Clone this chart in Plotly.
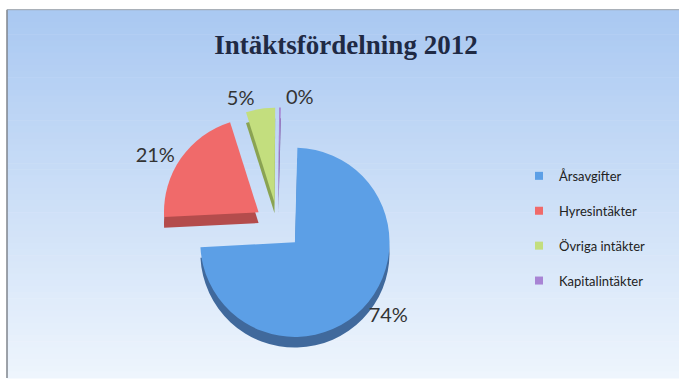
import plotly.graph_objects as go

# ---- data ----
categories = ["Årsavgifter", "Hyresintäkter", "Övriga intäkter", "Kapitalintäkter"]
values = [74, 21, 5, 0.3]
title_text = "Intäktsfördelning 2012"

# ---- styles ----
top_colors = ["#5c9fe6", "#f06a6a", "#c3de7e", "#a884d4"]
side_colors = ["#40699c", "#b44c4c", "#8aa352", "#77589c"]
W, H = 679, 390
pull = [0.25, 0.25, 0.25, 0.25]
rot = 1.5

cx, cy = 278, 233          # pie centre in px
half = 122                 # half of domain size in px
dx0, dx1 = (cx - half) / W, (cx + half) / W
dy0, dy1 = 1 - (cy + half) / H, 1 - (cy - half) / H
depth = 11 / H

fig = go.Figure()

# 3D side (shadow) pie
fig.add_trace(go.Pie(
    labels=categories, values=values, sort=False, direction="clockwise", rotation=rot,
    pull=pull, marker=dict(colors=side_colors, line=dict(width=0)),
    textinfo="none", hoverinfo="skip", showlegend=False,
    domain=dict(x=[dx0, dx1], y=[dy0 - depth, dy1 - depth]),
))
# top face
fig.add_trace(go.Pie(
    labels=categories, values=values, sort=False, direction="clockwise", rotation=rot,
    pull=pull, marker=dict(colors=top_colors, line=dict(width=0)),
    texttemplate="%{percent:.0%}", textposition="outside",
    textfont=dict(family="Lato", size=20, color="#333333"),
    showlegend=False,
    domain=dict(x=[dx0, dx1], y=[dy0, dy1]),
))

# legend entries
for name, col in zip(categories, top_colors):
    fig.add_trace(go.Scatter(
        x=[None], y=[None], mode="markers", name=name, legendgroup=name,
        marker=dict(symbol="square", size=8, color=col),
    ))

# gradient background
shapes = []
n = 60
top_rgb = (170, 201, 242)
bot_rgb = (238, 245, 253)
y_start = 10
for i in range(n):
    t = i / (n - 1)
    r = int(top_rgb[0] + (bot_rgb[0] - top_rgb[0]) * t)
    g = int(top_rgb[1] + (bot_rgb[1] - top_rgb[1]) * t)
    b = int(top_rgb[2] + (bot_rgb[2] - top_rgb[2]) * t)
    y0p = y_start + (H - y_start) * i / n
    y1p = y_start + (H - y_start) * (i + 1) / n + 0.6
    shapes.append(dict(type="rect", xref="paper", yref="paper", layer="below",
                       x0=7 / W, x1=1, y0=1 - y1p / H, y1=1 - y0p / H,
                       fillcolor=f"rgb({r},{g},{b})", line=dict(width=0)))
# border lines
shapes.append(dict(type="line", xref="paper", yref="paper", layer="below",
                   x0=7 / W, x1=7 / W, y0=0, y1=1 - 10 / H, line=dict(color="#7f858d", width=1.5)))
shapes.append(dict(type="line", xref="paper", yref="paper", layer="below",
                   x0=7 / W, x1=1, y0=1 - 10 / H, y1=1 - 10 / H, line=dict(color="#9aa0a8", width=1)))

fig.update_layout(
    width=W, height=H,
    margin=dict(l=0, r=0, t=0, b=0),
    paper_bgcolor="white", plot_bgcolor="rgba(0,0,0,0)",
    shapes=shapes,
    xaxis=dict(visible=False), yaxis=dict(visible=False),
    title=dict(text=f"<b>{title_text}</b>", x=346 / W, xanchor="center",
               y=1 - 45 / H, yanchor="middle",
               font=dict(family="Liberation Serif", size=27, color="#1f2a44")),
    legend=dict(x=519 / W, y=1 - 166 / H, xanchor="left", yanchor="top",
                bgcolor="rgba(0,0,0,0)", tracegroupgap=15,
                font=dict(family="Lato", size=13, color="#222222")),
)

fig.write_html("out.html")
